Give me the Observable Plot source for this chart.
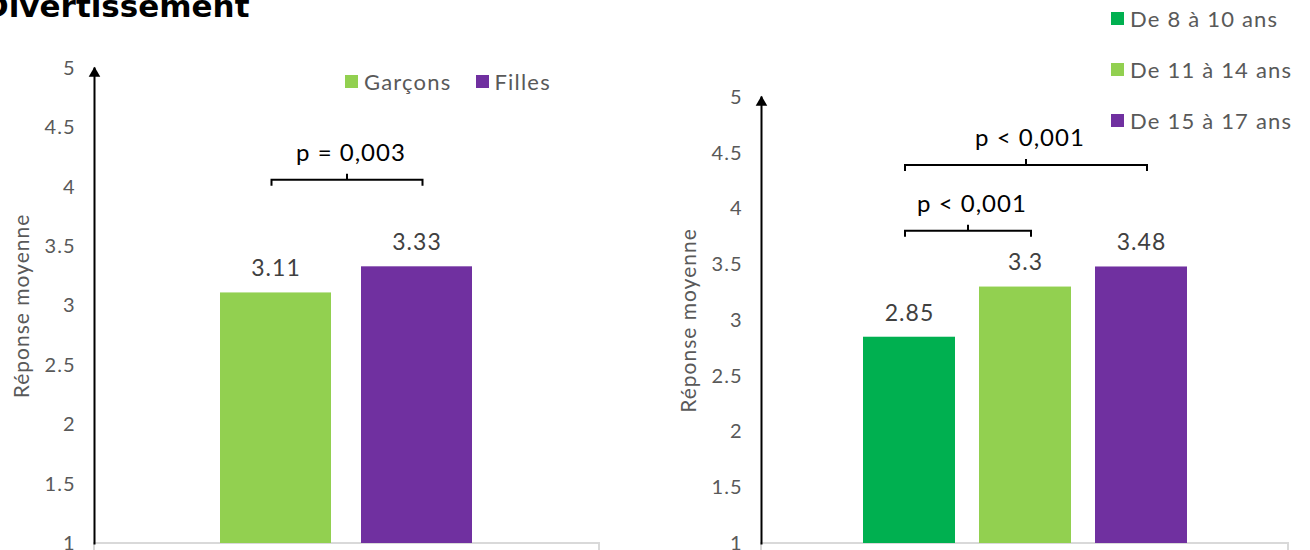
<!DOCTYPE html>
<html>
<head>
<meta charset="utf-8">
<script src="https://cdn.jsdelivr.net/npm/d3@7"></script>
<script src="https://cdn.jsdelivr.net/npm/@observablehq/plot@0.6"></script>
<style>
  body { margin: 0; background: #fff; }
  #page { position: relative; width: 1310px; height: 550px; overflow: hidden; background: #fff; font-family: Lato, "Noto Sans", sans-serif; }
  #title { position: absolute; left: -17px; top: -9px; font: bold 31px/30px "DejaVu Sans", sans-serif; color: #000; white-space: nowrap; z-index: 2; }
  .chart { position: absolute; top: 0; }
  .legend { position: absolute; color: #595959; font-size: 22px; letter-spacing: 1.2px; white-space: nowrap; z-index: 2; }
  .item { display: flex; align-items: center; gap: 6px; }
  .sw { width: 13px; height: 13px; display: inline-block; }
</style>
</head>
<body>
<div id="page">
  <div id="left" class="chart" style="left:0px"></div>
  <div id="right" class="chart" style="left:655px"></div>
  <div id="title"></div>
  <div id="legendLeft" class="legend" style="left:345px; top:68px; display:flex; gap:24px;"></div>
  <div id="legendRight" class="legend" style="left:1111px; top:5px;"></div>
</div>
<script>
// Mean answers (1–5 scale) to "Divertissement", by sex and by age group
const title = "Divertissement";
const yLabel = "Réponse moyenne";
const yTicks = [1, 1.5, 2, 2.5, 3, 3.5, 4, 4.5, 5];

const sexes = ["Garçons", "Filles"];
const sexMeans = [3.11, 3.33];
const sexColors = ["#92D050", "#7030A0"];
const sexTests = [
  {from: "Garçons", to: "Filles", level: 4.06, label: "p = 0,003"}
];

const ages = ["De 8 à 10 ans", "De 11 à 14 ans", "De 15 à 17 ans"];
const ageMeans = [2.85, 3.3, 3.48];
const ageColors = ["#00B050", "#92D050", "#7030A0"];
const ageTests = [
  {from: "De 8 à 10 ans", to: "De 11 à 14 ans", level: 3.8, label: "p < 0,001"},
  {from: "De 8 à 10 ans", to: "De 15 à 17 ans", level: 4.39, label: "p < 0,001"}
];

document.getElementById("title").textContent = title;

const textFont = "Lato, 'Noto Sans', sans-serif";

// Significance bracket drawn from the plot's own x and y scales
function brackets(tests) {
  return (index, scales) => {
    const x = scales.x, y = scales.y;
    const bw = typeof x.bandwidth === "function" ? x.bandwidth() : (x.bandwidth || 0);
    const g = d3.create("svg:g");
    for (const t of tests) {
      const x1 = x(t.from) + bw / 2 - 4;
      const x2 = x(t.to) + bw / 2 + 6;
      const yy = y(t.level);
      const xm = (x1 + x2) / 2;
      g.append("path")
        .attr("d", `M${x1},${yy + 6}V${yy}H${x2}V${yy + 6}M${xm},${yy}V${yy - 6}`)
        .attr("fill", "none").attr("stroke", "#000").attr("stroke-width", 2);
      g.append("text")
        .attr("x", xm + 4).attr("y", yy - 19)
        .attr("text-anchor", "middle")
        .attr("font-family", textFont)
        .attr("font-size", 24).attr("letter-spacing", 1).attr("fill", "#000")
        .text(t.label);
    }
    return g.node();
  };
}

function chart({groups, means, colors, tests, width, height, marginLeft, marginRight, marginTop, marginBottom, paddingInner, paddingOuter}) {
  const rows = groups.map((g, i) => ({group: g, mean: means[i]}));
  return Plot.plot({
    width, height, marginLeft, marginRight, marginTop, marginBottom,
    style: {fontFamily: textFont, fontSize: "20px", color: "#595959", background: "#fff", letterSpacing: "1px"},
    x: {domain: groups, axis: null, paddingInner, paddingOuter},
    y: {domain: [1, 5]},
    color: {domain: groups, range: colors},
    marks: [
      // light grey category box under the bars
      Plot.rect([0], {y1: () => 1, y2: () => 0.7, fill: "none", stroke: "#d9d9d9", strokeWidth: 2}),
      Plot.barY(rows, {x: "group", y1: () => 1, y2: "mean", fill: "group"}),
      Plot.text(rows, {x: "group", y: "mean", text: d => String(d.mean), dy: -24, fontSize: 23, fill: "#404040"}),
      Plot.axisY({ticks: yTicks, tickFormat: d => String(d), tickSize: 0, tickPadding: 19, fontSize: 20, label: null, fill: "#595959"}),
      Plot.text([yLabel], {frameAnchor: "left", textAnchor: "middle", rotate: -90, dx: -72, fontSize: 21, fill: "#595959"}),
      // y axis line with arrowhead
      Plot.frame({anchor: "left", stroke: "#000", strokeWidth: 2}),
      Plot.dot([0], {frameAnchor: "top-left", symbol: "triangle", r: 4.3, fill: "#000", stroke: "none", dy: 5}),
      brackets(tests)
    ]
  });
}

// plot area: left x 94–599, y(5)=68 … y(1)=543
document.getElementById("left").append(chart({
  groups: sexes, means: sexMeans, colors: sexColors, tests: sexTests,
  width: 655, height: 570, marginLeft: 94, marginRight: 56, marginTop: 68, marginBottom: 27,
  paddingInner: 0.211, paddingOuter: 0.884
}));

// plot area: right x 761–1288, y(5)=97 … y(1)=543
document.getElementById("right").append(chart({
  groups: ages, means: ageMeans, colors: ageColors, tests: ageTests,
  width: 655, height: 570, marginLeft: 106, marginRight: 22, marginTop: 97, marginBottom: 27,
  paddingInner: 0.207, paddingOuter: 0.875
}));

// legends
function legend(el, groups, colors) {
  groups.forEach((g, i) => {
    const item = document.createElement("div");
    item.className = "item";
    const sw = document.createElement("span");
    sw.className = "sw";
    sw.style.background = colors[i];
    const tx = document.createElement("span");
    tx.textContent = g;
    item.append(sw, tx);
    el.append(item);
  });
}
legend(document.getElementById("legendLeft"), sexes, sexColors);
const lr = document.getElementById("legendRight");
legend(lr, ages, ageColors);
[...lr.children].forEach((c, i) => { if (i) c.style.marginTop = "24px"; });
</script>
</body>
</html>
